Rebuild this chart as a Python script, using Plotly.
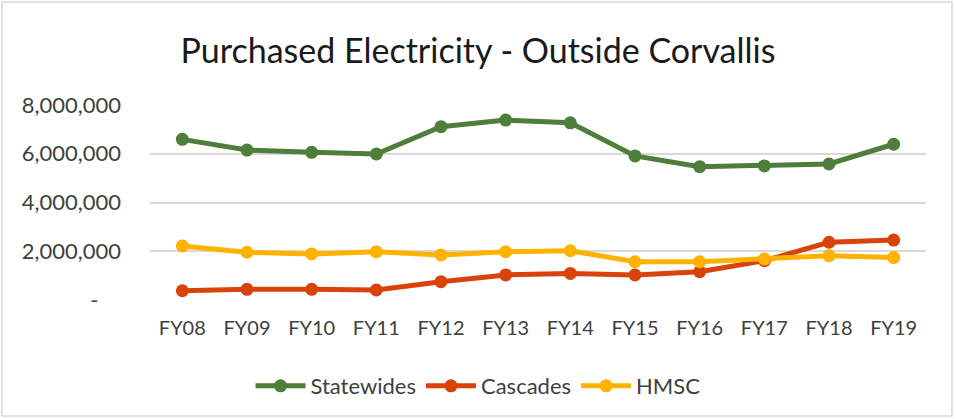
import plotly.graph_objects as go

categories = ["FY08", "FY09", "FY10", "FY11", "FY12", "FY13", "FY14", "FY15", "FY16", "FY17", "FY18", "FY19"]
statewides = [6590000, 6150000, 6060000, 5990000, 7110000, 7380000, 7270000, 5910000, 5470000, 5500000, 5580000, 6390000]
cascades = [380000, 440000, 440000, 410000, 750000, 1030000, 1090000, 1030000, 1160000, 1610000, 2370000, 2460000]
hmsc = [2220000, 1960000, 1890000, 1980000, 1850000, 1980000, 2020000, 1570000, 1570000, 1680000, 1820000, 1740000]
ytick_vals = [0, 2000000, 4000000, 6000000, 8000000]
ytick_text = ["-\u00a0\u00a0\u00a0\u00a0", "2,000,000", "4,000,000", "6,000,000", "8,000,000"]

series = [
    ("Statewides", statewides, "#4E7E3A"),
    ("Cascades", cascades, "#D9430B"),
    ("HMSC", hmsc, "#FFB300"),
]

W, H = 956, 419
L, R, T, B = 150, 30, 105, 119

fig = go.Figure()
for name, vals, color in series:
    fig.add_trace(go.Scatter(
        x=categories, y=vals, name=name, mode="lines+markers",
        line=dict(color=color, width=5),
        marker=dict(color=color, size=13),
    ))

pw = W - L - R
ph = H - T - B
fig.add_shape(type="rect", xref="paper", yref="paper",
              x0=(2 - L) / pw, x1=(W - 4 - L) / pw,
              y0=(3 - B) / ph, y1=(H - B - 2) / ph,
              line=dict(color="#D9D9D9", width=1.5), fillcolor="rgba(0,0,0,0)", layer="below")

fig.update_layout(
    width=W, height=H,
    margin=dict(l=L, r=R, t=T, b=B, autoexpand=False),
    paper_bgcolor="white", plot_bgcolor="white",
    font=dict(family="Lato", color="#404040"),
    title=dict(text="Purchased Electricity - Outside Corvallis", x=0.5, xanchor="center",
               xref="container", yref="container", y=1 - 51 / H, yanchor="middle",
               font=dict(family="Lato", size=34, color="#1a1a1a")),
    showlegend=True,
    legend=dict(orientation="h", x=0.5, xanchor="center", xref="container",
                yref="container", y=1 - 386 / H, yanchor="middle",
                font=dict(size=22, color="#404040"), itemwidth=50, tracegroupgap=0),
    xaxis=dict(type="category", range=[-0.5, 11.5], showgrid=False, zeroline=False,
               showline=False, ticks="", tickfont=dict(size=20, color="#404040"),
               ticklabelstandoff=14),
    yaxis=dict(range=[0, 8000000], tickvals=ytick_vals, ticktext=ytick_text,
               showgrid=True, gridcolor="#D9D9D9", gridwidth=1.5, zeroline=False,
               showline=False, ticks="", tickfont=dict(size=22, color="#404040"),
               ticklabelstandoff=28),
)

fig.write_html("out.html", config={"displayModeBar": False},
               post_script="document.body.style.margin='0';document.body.style.overflow='hidden';")
